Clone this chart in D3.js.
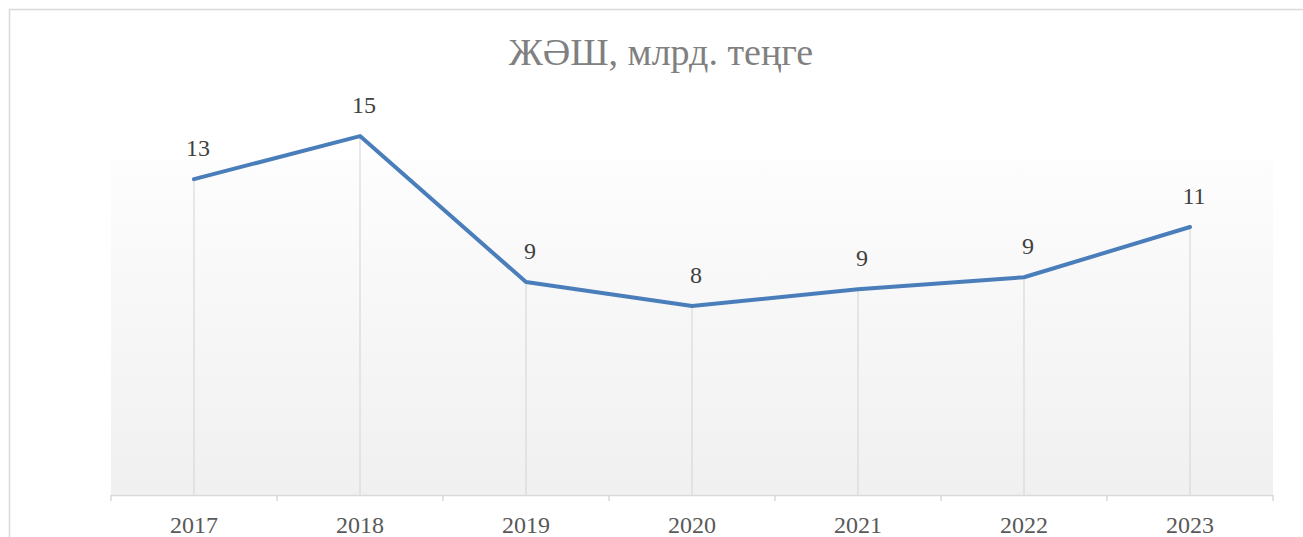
<!DOCTYPE html>
<html>
<head>
<meta charset="utf-8">
<script src="https://cdn.jsdelivr.net/npm/d3@7"></script>
<style>
  body { margin: 0; background: #fff; }
  svg { display: block; font-family: "Liberation Serif", "Times New Roman", serif; }
</style>
</head>
<body>
<div id="chart"></div>
<script>
const title = "ЖӘШ, млрд. теңге"
const years = ["2017", "2018", "2019", "2020", "2021", "2022", "2023"]
const values = [13.2, 15.0, 8.9, 7.9, 8.6, 9.1, 11.2]
const yDomain = [0, 14]

const W = 1303
const H = 537
const margin = { top: 160, right: 30, bottom: 42, left: 111 }
const plotRight = 1273
const plotBottom = 495

const svg = d3.select("#chart")
  .append("svg")
  .attr("width", W)
  .attr("height", H)

const defs = svg.append("defs")
const grad = defs.append("linearGradient")
  .attr("id", "plotFill")
  .attr("x1", 0).attr("y1", 0)
  .attr("x2", 0).attr("y2", 1)
grad.append("stop").attr("offset", "0%").attr("stop-color", "#fdfdfd")
grad.append("stop").attr("offset", "100%").attr("stop-color", "#f0f0f0")

// outer chart border (runs off the right / bottom edge)
svg.append("rect")
  .attr("x", 9.5).attr("y", 9.5)
  .attr("width", W).attr("height", H)
  .attr("fill", "#fff")
  .attr("stroke", "#d9d9d9")
  .attr("stroke-width", 1.5)

const x = d3.scaleBand()
  .domain(years)
  .range([margin.left, plotRight])
  .padding(0)

const y = d3.scaleLinear()
  .domain(yDomain)
  .range([plotBottom, margin.top])

const cx = d => x(d) + x.bandwidth() / 2

// plot area
svg.append("rect")
  .attr("x", margin.left)
  .attr("y", margin.top)
  .attr("width", plotRight - margin.left)
  .attr("height", plotBottom - margin.top)
  .attr("fill", "url(#plotFill)")

// title
svg.append("text")
  .attr("x", 661)
  .attr("y", 65)
  .attr("text-anchor", "middle")
  .attr("fill", "#808080")
  .style("font-size", "38px")
  .text(title)

// drop lines
svg.append("g")
  .selectAll("line")
  .data(years)
  .join("line")
  .attr("x1", d => cx(d))
  .attr("x2", d => cx(d))
  .attr("y1", (d, i) => y(values[i]))
  .attr("y2", plotBottom)
  .attr("stroke", "#d9d9d9")
  .attr("stroke-width", 1.2)

// x axis: line + tick marks between categories
const axis = svg.append("g")
axis.append("line")
  .attr("x1", margin.left)
  .attr("x2", plotRight)
  .attr("y1", plotBottom + 0.5)
  .attr("y2", plotBottom + 0.5)
  .attr("stroke", "#d9d9d9")
  .attr("stroke-width", 1.5)

const tickPos = years.map(d => x(d)).concat([plotRight])
axis.selectAll(".tick-mark")
  .data(tickPos)
  .join("line")
  .attr("class", "tick-mark")
  .attr("x1", d => d)
  .attr("x2", d => d)
  .attr("y1", plotBottom)
  .attr("y2", plotBottom + 6)
  .attr("stroke", "#d9d9d9")
  .attr("stroke-width", 1.5)

axis.selectAll(".tick-label")
  .data(years)
  .join("text")
  .attr("class", "tick-label")
  .attr("x", d => cx(d))
  .attr("y", 533)
  .attr("text-anchor", "middle")
  .attr("fill", "#595959")
  .style("font-size", "24px")
  .text(d => d)

// series line
const line = d3.line()
  .x(d => cx(d.year))
  .y(d => y(d.value))

const series = years.map((year, i) => ({ year, value: values[i] }))

svg.append("path")
  .datum(series)
  .attr("d", line)
  .attr("fill", "none")
  .attr("stroke", "#4a7ebb")
  .attr("stroke-width", 4)
  .attr("stroke-linejoin", "round")
  .attr("stroke-linecap", "round")

// data labels
const fmt = d3.format(".0f")
svg.append("g")
  .selectAll("text")
  .data(series)
  .join("text")
  .attr("x", d => cx(d.year) + 4)
  .attr("y", d => y(d.value) - 23)
  .attr("text-anchor", "middle")
  .attr("fill", "#404040")
  .style("font-size", "24px")
  .text(d => fmt(d.value))
</script>
</body>
</html>
